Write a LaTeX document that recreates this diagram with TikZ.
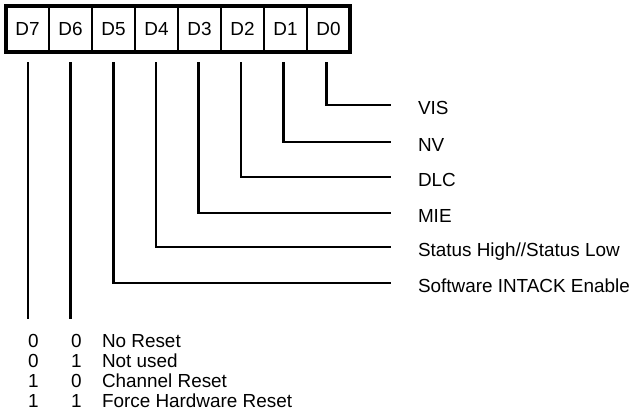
\documentclass[tikz,border=0pt]{standalone}
\usepackage{fontspec}
\setmainfont{Liberation Sans}
\begin{document}
\begin{tikzpicture}[x=1pt,y=1pt,
  every node/.style={inner sep=0pt,outer sep=0pt,font=\fontsize{18.9}{20.3}\selectfont},
  cell/.style={draw=black,line width=2.6pt,minimum width=43pt,minimum height=46pt,anchor=north west},
  wire/.style={line width=2.6pt,line cap=butt,line join=miter},
  lbl/.style={anchor=base west}]
\useasboundingbox (0,0) rectangle (633,-413);
% register cells
\foreach \b [count=\i from 0] in {7,6,5,4,3,2,1,0} {
  \node[cell] (c\b) at ({6+43*\i},-6) {D\b};
}
\draw[line width=3.6pt] (c7.north west) rectangle (c0.south east);
% wire start points
\foreach \b [count=\i from 0] in {7,6,5,4,3,2,1,0} {
  \coordinate (s\b) at ({28+42.6*\i},-62);
}
% labels
\node[lbl] (l0) at (418,-114) {VIS};
\node[lbl] (l1) at (418,-151) {NV};
\node[lbl] (l2) at (418,-186) {DLC};
\node[lbl] (l3) at (418,-222) {MIE};
\node[lbl] (l4) at (418,-256) {Status High//Status Low};
\node[lbl] (l5) at (418,-292) {Software INTACK Enable};
% wire ends
\coordinate (e0) at (391,-105);
\coordinate (e1) at (391,-142);
\coordinate (e2) at (391,-177);
\coordinate (e3) at (391,-213);
\coordinate (e4) at (391,-247);
\coordinate (e5) at (391,-283);
\foreach \b in {0,...,5} {
  \draw[wire] (s\b) |- (e\b);
}
\coordinate (e6) at (s6 |- 0,-319);
\coordinate (e7) at (s7 |- 0,-319);
\draw[wire] (s6) -- (e6);
\draw[wire] (s7) -- (e7);
% truth table
\foreach \a/\c/\t [count=\r from 0] in {0/0/No Reset,0/1/Not used,1/0/Channel Reset,1/1/Force Hardware Reset} {
  \node[lbl] (ta\r) at (28,{-347-20.3*\r}) {\a};
  \node[lbl] (tb\r) at (71,{-347-20.3*\r}) {\c};
  \node[lbl] (tt\r) at (102,{-347-20.3*\r}) {\t};
}
\end{tikzpicture}
\end{document}
